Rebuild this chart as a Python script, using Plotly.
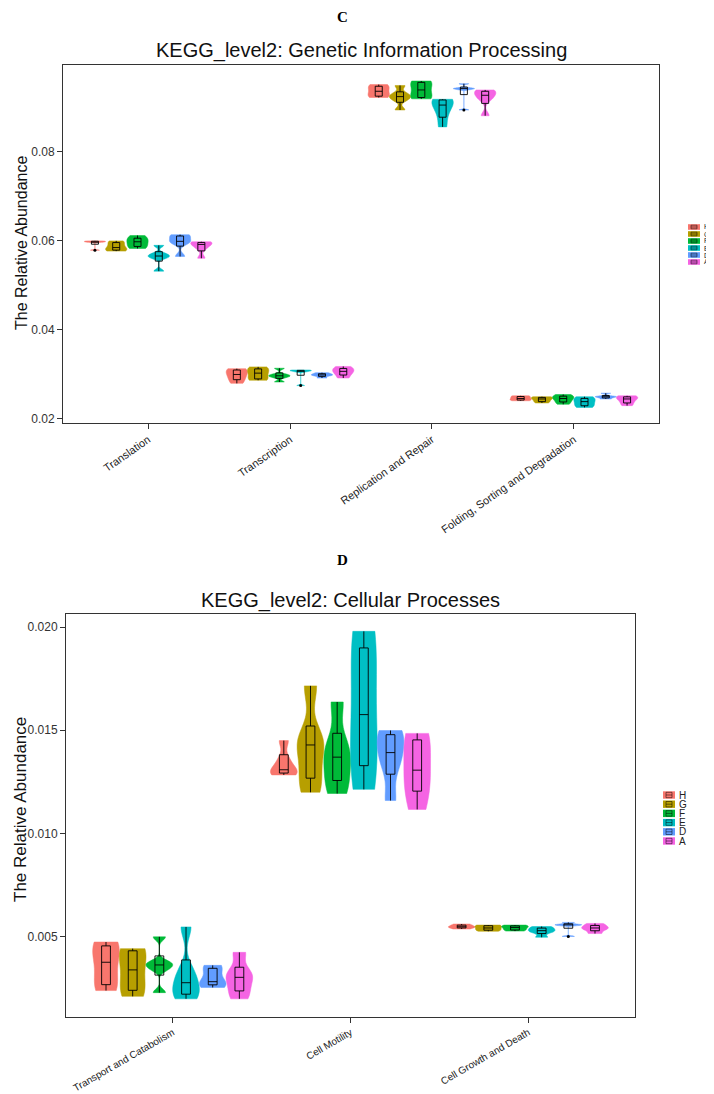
import numpy as np
import plotly.graph_objects as go

GROUPS = ["H", "G", "F", "E", "D", "A"]
COLORS = ["#F8766D", "#B79F00", "#00BA38", "#00BFC4", "#619CFF", "#F564E3"]

# ---- Panel C: KEGG level2 Genetic Information Processing ----
C_CATEGORIES = ["Translation", "Transcription", "Replication and Repair",
                "Folding, Sorting and Degradation"]
C_H = [[0.0579, 0.0597, 0.0598, 0.0599, 0.0600], [0.0280, 0.0291, 0.0300, 0.0309, 0.0313],
       [0.0922, 0.0926, 0.0936, 0.0946, 0.0951], [0.0241, 0.0243, 0.0246, 0.0250, 0.0252]]
C_G = [[0.0577, 0.0580, 0.0585, 0.0595, 0.0600], [0.0287, 0.0291, 0.0303, 0.0311, 0.0317],
       [0.0894, 0.0917, 0.0924, 0.0930, 0.0949], [0.0236, 0.0240, 0.0245, 0.0248, 0.0250]]
C_F = [[0.0583, 0.0589, 0.0598, 0.0604, 0.0612], [0.0283, 0.0294, 0.0297, 0.0300, 0.0314],
       [0.0919, 0.0923, 0.0939, 0.0955, 0.0959], [0.0233, 0.0240, 0.0246, 0.0250, 0.0255]]
C_E = [[0.0532, 0.0562, 0.0566, 0.0571, 0.0590], [0.0275, 0.0306, 0.0308, 0.0309, 0.0310],
       [0.0856, 0.0885, 0.0905, 0.0916, 0.0918], [0.0226, 0.0231, 0.0239, 0.0245, 0.0250]]
C_D = [[0.0565, 0.0596, 0.0599, 0.0610, 0.0614], [0.0292, 0.0297, 0.0299, 0.0301, 0.0304],
       [0.0894, 0.0940, 0.0942, 0.0943, 0.0953], [0.0245, 0.0248, 0.0250, 0.0251, 0.0258]]
C_A = [[0.0561, 0.0583, 0.0592, 0.0596, 0.0598], [0.0292, 0.0301, 0.0307, 0.0312, 0.0318],
       [0.0881, 0.0918, 0.0927, 0.0935, 0.0939], [0.0230, 0.0238, 0.0245, 0.0249, 0.0252]]
C_TICKS = [0.02, 0.04, 0.06, 0.08]

# ---- Panel D: KEGG level2 Cellular Processes ----
D_CATEGORIES = ["Transport and Catabolism", "Cell Motility", "Cell Growth and Death"]
D_H = [[0.00240, 0.00278, 0.00377, 0.00450, 0.00475], [0.01284, 0.01296, 0.01309, 0.01359, 0.01450],
       [0.00538, 0.00545, 0.00549, 0.00555, 0.00562]]
D_G = [[0.00212, 0.00251, 0.00340, 0.00429, 0.00443], [0.01200, 0.01291, 0.01429, 0.01456, 0.01715],
       [0.00527, 0.00534, 0.00543, 0.00553, 0.00557]]
D_F = [[0.00230, 0.00343, 0.00364, 0.00377, 0.00500], [0.01194, 0.01278, 0.01370, 0.01435, 0.01637],
       [0.00528, 0.00535, 0.00545, 0.00552, 0.00557]]
D_E = [[0.00200, 0.00230, 0.00278, 0.00335, 0.00548], [0.01214, 0.01367, 0.01576, 0.01872, 0.01979],
       [0.00498, 0.00522, 0.00530, 0.00540, 0.00550]]
D_D = [[0.00255, 0.00272, 0.00283, 0.00343, 0.00362], [0.01160, 0.01330, 0.01392, 0.01472, 0.01499],
       [0.00502, 0.00555, 0.00558, 0.00561, 0.00570]]
D_A = [[0.00200, 0.00251, 0.00304, 0.00329, 0.00425], [0.01117, 0.01235, 0.01307, 0.01443, 0.01485],
       [0.00516, 0.00534, 0.00543, 0.00552, 0.00565]]
D_TICKS = [0.005, 0.010, 0.015, 0.020]

C_SERIES = [C_H, C_G, C_F, C_E, C_D, C_A]
D_SERIES = [D_H, D_G, D_F, D_E, D_D, D_A]

# page body has an 8px default margin; lay the figure out in page pixels
PAGE_W, PAGE_H, OFF = 714, 1094, 8
W, H = PAGE_W - OFF, PAGE_H - OFF
FONT = "Liberation Sans, Arial, Helvetica, sans-serif"
SERIF = "Liberation Serif, Times New Roman, serif"


def bw_nrd0(v):
    v = np.asarray(v, dtype=float)
    sd = v.std(ddof=1)
    q75, q25 = np.percentile(v, [75, 25])
    lo = min(sd, (q75 - q25) / 1.34)
    if lo <= 0:
        lo = sd if sd > 0 else abs(v[0]) * 0.01
    return 0.9 * lo * len(v) ** -0.2


def px_x(p):
    return (p - OFF) / W


def px_y(p):
    return 1 - (p - OFF) / H


fig = go.Figure()

for panel, cats, series, xa, ya in [("C", C_CATEGORIES, C_SERIES, "x", "y"),
                                    ("D", D_CATEGORIES, D_SERIES, "x2", "y2")]:
    for gi, (grp, col) in enumerate(zip(GROUPS, COLORS)):
        for ci, cat in enumerate(cats):
            vals = series[gi][ci]
            fig.add_trace(go.Violin(
                x=[cat] * len(vals), y=vals, xaxis=xa, yaxis=ya,
                name=grp, legendgroup=grp, showlegend=False,
                offsetgroup=grp, alignmentgroup=panel,
                scalegroup=f"{panel}-{cat}-{grp}", scalemode="width",
                spanmode="hard", bandwidth=bw_nrd0(vals),
                fillcolor=col, opacity=1,
                line=dict(color=col, width=0.5),
                box=dict(visible=True, width=0.33, fillcolor="rgba(0,0,0,0)",
                         line=dict(color="black", width=0.9)),
                meanline=dict(visible=False),
                points="outliers", pointpos=0, jitter=0,
                marker=dict(color="black", size=3, line=dict(width=0)),
                hoverinfo="y",
            ))

axis_common = dict(showline=True, mirror=True, linecolor="#333333", linewidth=1,
                   ticks="outside", ticklen=5, tickcolor="#333333", tickwidth=1,
                   showgrid=False, zeroline=False, automargin=False)

fig.update_layout(
    width=W, height=H,
    margin=dict(l=0, r=0, t=0, b=0),
    paper_bgcolor="white", plot_bgcolor="white",
    font=dict(family=FONT, color="black"),
    violinmode="group", violingap=0.1, violingroupgap=0,
    showlegend=False,
    xaxis=dict(domain=[px_x(63), px_x(659)], anchor="y", type="category",
               categoryorder="array", categoryarray=C_CATEGORIES,
               range=[-0.6, len(C_CATEGORIES) - 0.4], tickangle=-35,
               tickfont=dict(size=11, color="#222"), **axis_common),
    yaxis=dict(domain=[px_y(423), px_y(65)], anchor="x", range=[0.0191, 0.0995],
               tickvals=C_TICKS, ticktext=[f"{t:.2f}" for t in C_TICKS],
               tickfont=dict(size=12, color="#333"), **axis_common),
    xaxis2=dict(domain=[px_x(66), px_x(635)], anchor="y2", type="category",
                categoryorder="array", categoryarray=D_CATEGORIES,
                range=[-0.6, len(D_CATEGORIES) - 0.4], tickangle=-30,
                tickfont=dict(size=10, color="#222"), **axis_common),
    yaxis2=dict(domain=[px_y(1017), px_y(614)], anchor="x2", range=[0.00112, 0.02063],
                tickvals=D_TICKS, ticktext=[f"{t:.3f}" for t in D_TICKS],
                tickfont=dict(size=12, color="#333"), **axis_common),
)

annotations = [
    dict(text="<b>C</b>", x=px_x(342), y=px_y(17), font=dict(family=SERIF, size=15)),
    dict(text="KEGG_level2: Genetic Information Processing", x=px_x(361), y=px_y(50),
         font=dict(size=20, color="#111")),
    dict(text="<b>D</b>", x=px_x(342), y=px_y(560), font=dict(family=SERIF, size=15)),
    dict(text="KEGG_level2: Cellular Processes", x=px_x(350), y=px_y(600),
         font=dict(size=20, color="#111")),
    dict(text="The Relative Abundance", x=px_x(21), y=px_y(243), textangle=-90,
         font=dict(size=16, color="#111")),
    dict(text="The Relative Abundance", x=px_x(20), y=px_y(810), textangle=-90,
         font=dict(size=17, color="#111")),
]
for a in annotations:
    a.update(xref="paper", yref="paper", showarrow=False, xanchor="center", yanchor="middle")

shapes = []
# compact ggplot-style legends, one per panel
for (lx, ly0, step, kh, fsize) in [(688, 227, 7.0, 5.6, 7), (663, 795, 9.2, 7.4, 10)]:
    for i, (grp, col) in enumerate(zip(GROUPS, COLORS)):
        cy = ly0 + i * step
        shapes.append(dict(type="rect", xref="paper", yref="paper",
                           x0=px_x(lx), x1=px_x(lx + 12), y0=px_y(cy + kh / 2), y1=px_y(cy - kh / 2),
                           fillcolor=col, line=dict(width=0)))
        shapes.append(dict(type="rect", xref="paper", yref="paper",
                           x0=px_x(lx + 3), x1=px_x(lx + 9), y0=px_y(cy + kh / 2 - 1), y1=px_y(cy - kh / 2 + 1),
                           fillcolor="rgba(0,0,0,0)", line=dict(width=0.7, color="rgba(0,0,0,0.7)")))
        shapes.append(dict(type="line", xref="paper", yref="paper",
                           x0=px_x(lx + 3), x1=px_x(lx + 9), y0=px_y(cy), y1=px_y(cy),
                           line=dict(width=0.7, color="rgba(0,0,0,0.7)")))
        annotations.append(dict(text=grp, x=px_x(lx + 14), y=px_y(cy), xref="paper", yref="paper",
                                showarrow=False, xanchor="left", yanchor="middle",
                                font=dict(size=fsize, color="#222")))

fig.update_layout(annotations=annotations, shapes=shapes)
fig.write_html("out.html")
